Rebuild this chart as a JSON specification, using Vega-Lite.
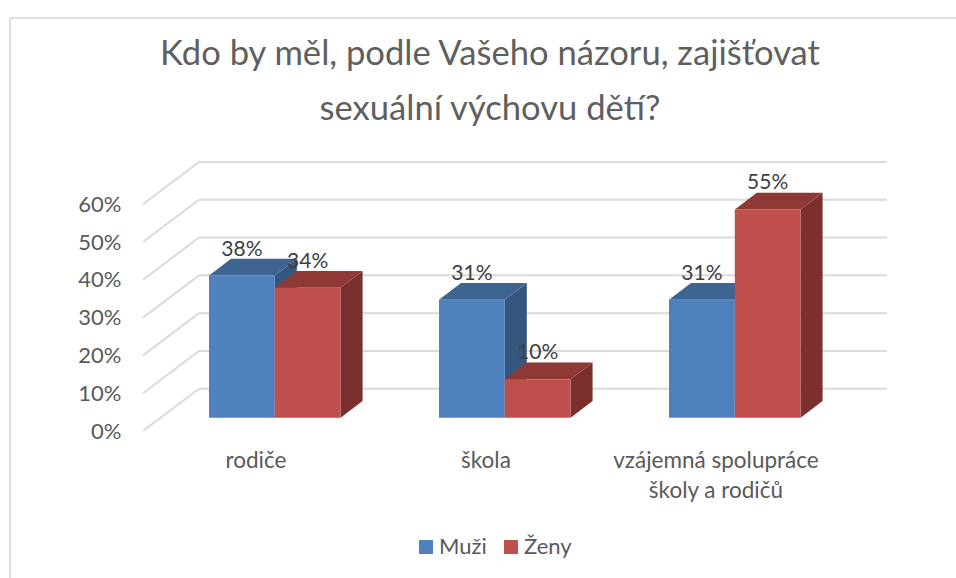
{
"$schema":"https://vega.github.io/schema/vega-lite/v6.json",
"width":744,"height":270,
"autosize":{"type":"none"},
"padding":{"left":143,"top":161,"right":69,"bottom":147},
"background":"white",
"title":{"text":["Kdo by měl, podle Vašeho názoru, zajišťovat","sexuální výchovu dětí?"],"anchor":"middle","dx":-25,"offset":0,"dy":111,"font":"Lato","fontSize":34.6,"fontWeight":"normal","color":"#5F5F5F","lineHeight":55},
"config":{"view":{"stroke":null},"font":"Lato"},
"data":{"values":[
{"kategorie":"rodiče","pohlavi":"Muži","hodnota":0.376},
{"kategorie":"rodiče","pohlavi":"Ženy","hodnota":0.344},
{"kategorie":"škola","pohlavi":"Muži","hodnota":0.312},
{"kategorie":"škola","pohlavi":"Ženy","hodnota":0.102},
{"kategorie":"vzájemná spolupráce\nškoly a rodičů","pohlavi":"Muži","hodnota":0.312},
{"kategorie":"vzájemná spolupráce\nškoly a rodičů","pohlavi":"Ženy","hodnota":0.551}
]},
"transform":[
{"calculate":"indexof(['rodiče','škola','vzájemná spolupráce\\nškoly a rodičů'],datum.kategorie)","as":"i"},
{"calculate":"datum.i+0.287+(datum.pohlavi==='Muži'?0:0.286)","as":"xL"},
{"calculate":"datum.xL+0.286","as":"xR"},
{"calculate":"0.0352","as":"b"},
{"calculate":"datum.b+datum.hodnota","as":"yT"}
],
"layer":[
{"data":{"values":[{"v":1}]},"transform":[],
 "mark":{"type":"rule","color":"#DEDEDE","strokeWidth":2,"clip":false},
 "encoding":{"x":{"datum":-0.578,"type":"quantitative","scale":{"domain":[0,3.2348],"nice":false,"zero":false},"axis":null},"x2":{"datum":-0.578},
  "y":{"datum":1.0926,"type":"quantitative","scale":{"domain":[0,0.7143],"nice":false,"zero":false},"axis":{"orient":"left","values":[0,0.1,0.2,0.3,0.4,0.5,0.6],"format":".0%","domain":false,"ticks":false,"grid":false,"title":null,"labelFont":"Lato","labelFontSize":22,"labelColor":"#595959","labelPadding":22}},"y2":{"datum":-0.39}}},
{"data":{"values":[{"v":1}]},"transform":[],
 "mark":{"type":"rule","color":"#DEDEDE","strokeWidth":2,"clip":false},
 "encoding":{"x":{"datum":-0.578,"type":"quantitative"},"x2":{"datum":3.54},"y":{"datum":1.0926,"type":"quantitative"},"y2":{"datum":1.0926}}},
{"data":{"values":[{"podil":0},{"podil":0.1},{"podil":0.2},{"podil":0.3},{"podil":0.4},{"podil":0.5},{"podil":0.6}]},
 "transform":[{"calculate":"datum.podil+0.1118","as":"zad"}],
 "mark":{"type":"rule","color":"#DADADA","strokeWidth":2},
 "encoding":{"x":{"datum":0.2435,"type":"quantitative"},"x2":{"datum":3.2348},"y":{"field":"zad","type":"quantitative"}}},
{"data":{"values":[{"podil":0},{"podil":0.1},{"podil":0.2},{"podil":0.3},{"podil":0.4},{"podil":0.5},{"podil":0.6}]},
 "transform":[{"calculate":"datum.podil+0.1118","as":"zad"}],
 "mark":{"type":"rule","color":"#DADADA","strokeWidth":2},
 "encoding":{"x":{"datum":0,"type":"quantitative"},"x2":{"datum":0.2435},
  "y":{"field":"podil","type":"quantitative"},
  "y2":{"field":"zad"}}},
{"transform":[{"calculate":"[0,1]","as":"t"},{"flatten":["t"]},{"calculate":"datum.xR+datum.t*0.0957","as":"ax"},{"calculate":"datum.yT+datum.t*0.0442","as":"ay"},{"calculate":"datum.b+datum.t*0.0442","as":"ay2"}],
 "mark":{"type":"area","orient":"vertical"},
 "encoding":{"x":{"field":"ax","type":"quantitative"},"y":{"field":"ay","type":"quantitative"},"y2":{"field":"ay2"},"detail":{"field":"kategorie"},
  "color":{"field":"pohlavi","type":"nominal","legend":null,"scale":{"domain":["Muži","Ženy"],"range":["#35567F","#7B302E"]}}}},
{"transform":[{"calculate":"[0,1]","as":"t"},{"flatten":["t"]},{"calculate":"datum.xL+datum.t*0.0957","as":"ax"},{"calculate":"datum.xR+datum.t*0.0957","as":"ax2"},{"calculate":"datum.yT+datum.t*0.0442","as":"ay"}],
 "mark":{"type":"area","orient":"horizontal"},
 "encoding":{"y":{"field":"ay","type":"quantitative"},"x":{"field":"ax","type":"quantitative"},"x2":{"field":"ax2"},"detail":{"field":"kategorie"},
  "color":{"field":"pohlavi","type":"nominal","legend":null,"scale":{"domain":["Muži","Ženy"],"range":["#3E6491","#8F3937"]}}}},
{"mark":{"type":"rect"},
 "encoding":{"x":{"field":"xL","type":"quantitative"},"x2":{"field":"xR"},"y":{"field":"yT","type":"quantitative"},"y2":{"field":"b"},
  "color":{"field":"pohlavi","type":"nominal","scale":{"domain":["Muži","Ženy"],"range":["#4F81BD","#C0504D"]},
   "legend":{"orient":"none","legendX":272,"legendY":375,"direction":"horizontal","title":null,"symbolType":"square","symbolSize":196,"symbolStrokeWidth":0,"labelFont":"Lato","labelFontSize":22,"labelColor":"#595959","labelOffset":2,"columnPadding":13}}}},
{"mark":{"type":"text","font":"Lato","fontSize":21,"color":"#404040","dy":-26,"align":"center","baseline":"middle"},
 "transform":[{"calculate":"(datum.xL+datum.xR)/2","as":"xS"}],
 "encoding":{"x":{"field":"xS","type":"quantitative"},"y":{"field":"yT","type":"quantitative"},"text":{"field":"hodnota","type":"quantitative","format":".0%"}}},
{"data":{"values":[{"kategorie":"rodiče","i":0},{"kategorie":"škola","i":1},{"kategorie":"vzájemná spolupráce\nškoly a rodičů","i":2}]},
 "transform":[{"calculate":"datum.i+0.491","as":"xS"}],
 "mark":{"type":"text","font":"Lato","fontSize":22.5,"color":"#595959","align":"center","baseline":"top","dy":19,"lineBreak":"\n","lineHeight":30},
 "encoding":{"x":{"field":"xS","type":"quantitative"},"y":{"datum":0,"type":"quantitative"},"text":{"field":"kategorie"}}}
],
"resolve":{"scale":{"color":"independent"}}
}
